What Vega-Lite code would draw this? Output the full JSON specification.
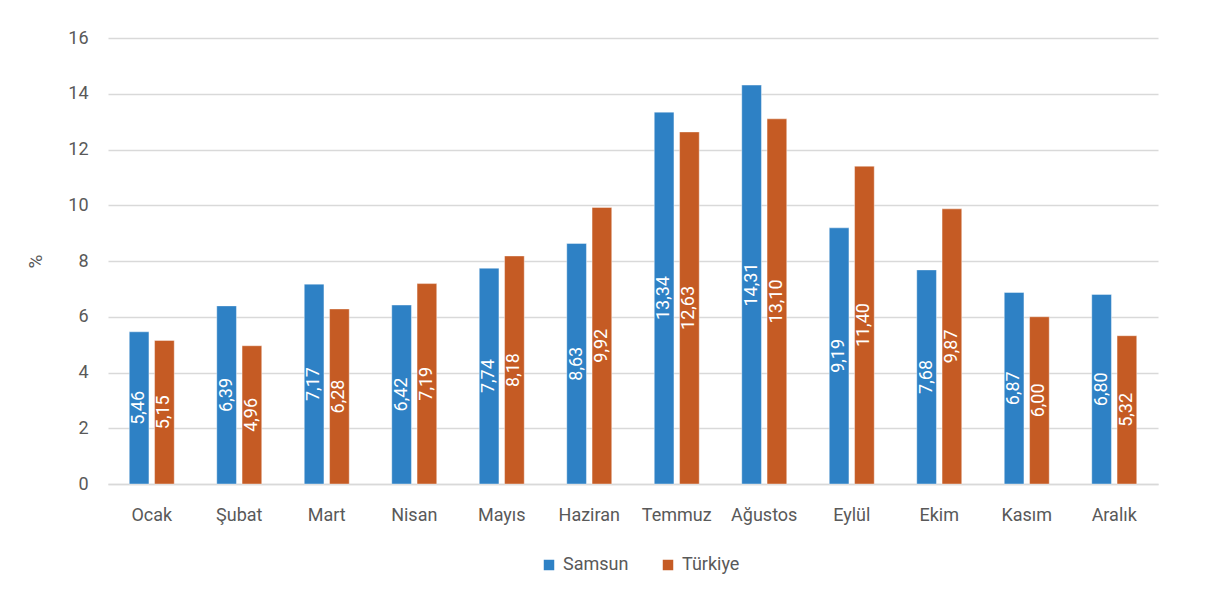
{
  "$schema": "https://vega.github.io/schema/vega-lite/v6.json",
  "autosize": "none",
  "width": 1050,
  "height": 446,
  "padding": {"left": 108, "top": 38, "right": 51, "bottom": 105},
  "background": "white",
  "config": {
    "font": "Roboto",
    "view": {"stroke": null},
    "locale": {"number": {"decimal": ",", "thousands": ".", "grouping": [3], "currency": ["", " TL"]}}
  },
  "data": {
    "values": [
      {"ay": "Ocak", "seri": "Samsun", "deger": 5.46},
      {"ay": "Ocak", "seri": "Türkiye", "deger": 5.15},
      {"ay": "Şubat", "seri": "Samsun", "deger": 6.39},
      {"ay": "Şubat", "seri": "Türkiye", "deger": 4.96},
      {"ay": "Mart", "seri": "Samsun", "deger": 7.17},
      {"ay": "Mart", "seri": "Türkiye", "deger": 6.28},
      {"ay": "Nisan", "seri": "Samsun", "deger": 6.42},
      {"ay": "Nisan", "seri": "Türkiye", "deger": 7.19},
      {"ay": "Mayıs", "seri": "Samsun", "deger": 7.74},
      {"ay": "Mayıs", "seri": "Türkiye", "deger": 8.18},
      {"ay": "Haziran", "seri": "Samsun", "deger": 8.63},
      {"ay": "Haziran", "seri": "Türkiye", "deger": 9.92},
      {"ay": "Temmuz", "seri": "Samsun", "deger": 13.34},
      {"ay": "Temmuz", "seri": "Türkiye", "deger": 12.63},
      {"ay": "Ağustos", "seri": "Samsun", "deger": 14.31},
      {"ay": "Ağustos", "seri": "Türkiye", "deger": 13.10},
      {"ay": "Eylül", "seri": "Samsun", "deger": 9.19},
      {"ay": "Eylül", "seri": "Türkiye", "deger": 11.40},
      {"ay": "Ekim", "seri": "Samsun", "deger": 7.68},
      {"ay": "Ekim", "seri": "Türkiye", "deger": 9.87},
      {"ay": "Kasım", "seri": "Samsun", "deger": 6.87},
      {"ay": "Kasım", "seri": "Türkiye", "deger": 6.00},
      {"ay": "Aralık", "seri": "Samsun", "deger": 6.80},
      {"ay": "Aralık", "seri": "Türkiye", "deger": 5.32}
    ]
  },
  "encoding": {
    "x": {
      "field": "ay", "type": "nominal", "sort": null,
      "scale": {"paddingInner": 0.486, "paddingOuter": 0.243},
      "axis": {
        "title": null, "labelAngle": 0, "labelFontSize": 18, "labelColor": "#595959",
        "labelPadding": 22, "ticks": false, "domain": true, "domainColor": "#d9d9d9", "domainWidth": 1.5
      }
    },
    "xOffset": {
      "field": "seri", "type": "nominal",
      "scale": {"paddingInner": 0.222, "paddingOuter": 0}
    }
  },
  "layer": [
    {
      "mark": {"type": "bar", "stroke": "#ffffff", "strokeOpacity": 0.5, "strokeWidth": 0.8},
      "encoding": {
        "y": {
          "field": "deger", "type": "quantitative",
          "scale": {"domain": [0, 16]},
          "axis": {
            "title": "%", "titleFontSize": 19, "titleColor": "#595959", "titleFontWeight": "normal",
            "titlePadding": 22, "values": [0, 2, 4, 6, 8, 10, 12, 14, 16],
            "labelFontSize": 18, "labelColor": "#595959", "labelPadding": 20,
            "ticks": false, "domain": false,
            "grid": true, "gridColor": "#d9d9d9", "gridWidth": 1.5
          }
        },
        "color": {
          "field": "seri", "type": "nominal",
          "scale": {"domain": ["Samsun", "Türkiye"], "range": ["#2E81C5", "#C55B24"]},
          "legend": {
            "title": null, "orient": "none", "direction": "horizontal",
            "legendX": 432, "legendY": 518,
            "symbolType": "square", "symbolSize": 110, "symbolStrokeWidth": 0,
            "labelFontSize": 18, "labelColor": "#595959", "columnPadding": 30,
            "labelOffset": 5
          }
        }
      }
    },
    {
      "transform": [{"calculate": "datum.deger / 2", "as": "orta"}],
      "mark": {"type": "text", "angle": 270, "align": "center", "baseline": "middle", "color": "white", "fontSize": 18},
      "encoding": {
        "y": {"field": "orta", "type": "quantitative", "scale": {"domain": [0, 16]}},
        "text": {"field": "deger", "type": "quantitative", "format": ".2f"}
      }
    }
  ]
}
